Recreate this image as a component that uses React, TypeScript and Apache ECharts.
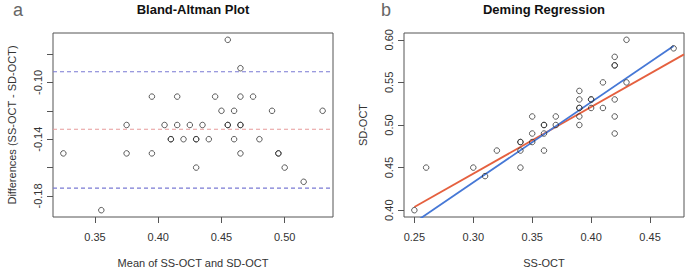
import React, { useEffect, useRef } from "react";
import * as echarts from "echarts";

// Paired measurements (SS-OCT vs SD-OCT)
const ssOct = [
  0.25, 0.26, 0.31, 0.3, 0.34, 0.32, 0.34, 0.34, 0.34, 0.36, 0.35, 0.35, 0.36,
  0.36, 0.36, 0.35, 0.37, 0.37, 0.39, 0.39, 0.42, 0.39, 0.39, 0.4, 0.39, 0.42,
  0.41, 0.4, 0.4, 0.39, 0.42, 0.41, 0.43, 0.42, 0.42, 0.42, 0.43, 0.47,
];
const sdOct = [
  0.4, 0.45, 0.44, 0.45, 0.45, 0.47, 0.47, 0.48, 0.48, 0.47, 0.48, 0.49, 0.49,
  0.5, 0.5, 0.51, 0.5, 0.51, 0.5, 0.51, 0.49, 0.52, 0.52, 0.52, 0.53, 0.51,
  0.52, 0.53, 0.53, 0.54, 0.53, 0.55, 0.55, 0.57, 0.57, 0.58, 0.6, 0.59,
];

// Bland-Altman reference lines
const meanDiff = -0.133;
const upperLoA = -0.0925;
const lowerLoA = -0.1745;

// Regression lines (right panel)
const demingSlope = 0.942;
const demingIntercept = 0.15;
const olsSlope = 0.783;
const olsIntercept = 0.208;

// Tick values
const baXTicks = [0.35, 0.4, 0.45, 0.5];
const baYTicks = [-0.18, -0.16, -0.14, -0.12, -0.1, -0.08];
const baYLabels = [-0.18, -0.14, -0.1];
const dmXTicks = [0.25, 0.3, 0.35, 0.4, 0.45];
const dmYTicks = [0.4, 0.45, 0.5, 0.55, 0.6];

const FONT = '"Liberation Sans", Arial, Helvetica, sans-serif';
const AXIS_COLOR = "#555";
const TEXT_COLOR = "#333";

function rExtent(arr: number[]): [number, number] {
  const mn = Math.min(...arr);
  const mx = Math.max(...arr);
  const r = mx - mn;
  return [mn - 0.04 * r, mx + 0.04 * r];
}

export default function App() {
  const ref = useRef<HTMLDivElement>(null);

  useEffect(() => {
    if (!ref.current) return;
    const chart = echarts.init(ref.current, undefined, { renderer: "svg" });

    const means = ssOct.map((s, i) => (s + sdOct[i]) / 2);
    const diffs = ssOct.map((s, i) => s - sdOct[i]);
    const baX = rExtent(means);
    const baY = rExtent(diffs);
    const dmX = rExtent(ssOct);
    const dmY = rExtent(sdOct);

    const fmt = (v: number) => Number(v).toFixed(2);

    const xAxisBase = (
      idx: number,
      ext: [number, number],
      ticks: number[],
      name: string
    ) => ({
      type: "value",
      gridIndex: idx,
      min: ext[0],
      max: ext[1],
      name,
      nameLocation: "middle",
      nameGap: 40,
      nameTextStyle: { color: TEXT_COLOR, fontSize: 11, fontFamily: FONT },
      axisLine: { show: false },
      splitLine: { show: false },
      axisTick: {
        show: true,
        inside: false,
        length: 6,
        customValues: ticks,
        lineStyle: { color: AXIS_COLOR, width: 1 },
      },
      axisLabel: {
        customValues: ticks,
        formatter: fmt,
        margin: 14,
        color: TEXT_COLOR,
        fontSize: 11,
        fontFamily: FONT,
      },
    });

    const yAxisBase = (
      idx: number,
      ext: [number, number],
      ticks: number[],
      labels: number[],
      name: string
    ) => ({
      type: "value",
      gridIndex: idx,
      min: ext[0],
      max: ext[1],
      name,
      nameLocation: "middle",
      nameGap: 36,
      nameTextStyle: { color: TEXT_COLOR, fontSize: 11, fontFamily: FONT },
      axisLine: { show: false },
      splitLine: { show: false },
      axisTick: {
        show: true,
        inside: false,
        length: 6,
        customValues: ticks,
        lineStyle: { color: AXIS_COLOR, width: 1 },
      },
      axisLabel: {
        customValues: labels,
        formatter: fmt,
        rotate: 90,
        margin: 10,
        color: TEXT_COLOR,
        fontSize: 11,
        fontFamily: FONT,
      },
    });

    const gridBase = {
      top: 33,
      height: 184,
      width: 280,
      show: true,
      borderColor: AXIS_COLOR,
      borderWidth: 1,
      backgroundColor: "transparent",
      containLabel: false,
      outerBoundsMode: "none",
    };

    const openCircle = {
      symbol: "circle",
      symbolSize: 5.5,
      itemStyle: { color: "rgba(0,0,0,0)", borderColor: "#333", borderWidth: 1 },
    };

    const dashed = (color: string) => ({
      lineStyle: { color, width: 1.2, type: [4, 3] },
    });

    const textStyle = (
      text: string,
      x: number,
      y: number,
      size: number,
      weight: string,
      fill: string
    ) => ({
      type: "text",
      x,
      y,
      silent: true,
      style: {
        text,
        fill,
        fontSize: size,
        fontWeight: weight,
        fontFamily: FONT,
        align: "center",
        verticalAlign: "middle",
        textAlign: "center",
        textVerticalAlign: "middle",
      },
    });

    const minSS = Math.min(...ssOct);
    const maxSS = Math.max(...ssOct);

    chart.setOption({
      animation: false,
      backgroundColor: "#fff",
      textStyle: { fontFamily: FONT },
      grid: [
        { ...gridBase, left: 53 },
        { ...gridBase, left: 404 },
      ],
      xAxis: [
        xAxisBase(0, baX, baXTicks, "Mean of SS-OCT and SD-OCT"),
        xAxisBase(1, dmX, dmXTicks, "SS-OCT"),
      ],
      yAxis: [
        yAxisBase(0, baY, baYTicks, baYLabels, "Differences (SS-OCT - SD-OCT)"),
        yAxisBase(1, dmY, dmYTicks, dmYTicks, "SD-OCT"),
      ],
      graphic: [
        textStyle("a", 18, 10, 18, "normal", "#666"),
        textStyle("b", 386, 10, 18, "normal", "#666"),
        textStyle("Bland-Altman Plot", 193, 9, 13, "bold", "#111"),
        textStyle("Deming Regression", 544, 9, 13, "bold", "#111"),
      ],
      series: [
        {
          type: "scatter",
          xAxisIndex: 0,
          yAxisIndex: 0,
          ...openCircle,
          data: means.map((m, i) => [m, diffs[i]]),
          z: 5,
        },
        {
          type: "line",
          xAxisIndex: 0,
          yAxisIndex: 0,
          data: [
            [baX[0], upperLoA],
            [baX[1], upperLoA],
          ],
          showSymbol: false,
          symbol: "none",
          ...dashed("#7a7ad4"),
          z: 3,
        },
        {
          type: "line",
          xAxisIndex: 0,
          yAxisIndex: 0,
          data: [
            [baX[0], lowerLoA],
            [baX[1], lowerLoA],
          ],
          showSymbol: false,
          symbol: "none",
          ...dashed("#7a7ad4"),
          z: 3,
        },
        {
          type: "line",
          xAxisIndex: 0,
          yAxisIndex: 0,
          data: [
            [baX[0], meanDiff],
            [baX[1], meanDiff],
          ],
          showSymbol: false,
          symbol: "none",
          ...dashed("#e89a9a"),
          z: 3,
        },
        {
          type: "scatter",
          xAxisIndex: 1,
          yAxisIndex: 1,
          ...openCircle,
          data: ssOct.map((s, i) => [s, sdOct[i]]),
          z: 5,
        },
        {
          type: "line",
          xAxisIndex: 1,
          yAxisIndex: 1,
          clip: true,
          data: [
            [minSS, olsIntercept + olsSlope * minSS],
            [dmX[1], olsIntercept + olsSlope * dmX[1]],
          ],
          showSymbol: false,
          symbol: "none",
          lineStyle: { color: "#e5603f", width: 1.8 },
          z: 3,
        },
        {
          type: "line",
          xAxisIndex: 1,
          yAxisIndex: 1,
          clip: true,
          data: [
            [minSS, demingIntercept + demingSlope * minSS],
            [maxSS, demingIntercept + demingSlope * maxSS],
          ],
          showSymbol: false,
          symbol: "none",
          lineStyle: { color: "#4678d6", width: 1.8 },
          z: 4,
        },
      ],
    });

    return () => chart.dispose();
  }, []);

  return (
    <div
      ref={ref}
      style={{
        position: "absolute",
        left: 0,
        top: 0,
        width: 685,
        height: 270,
        background: "#fff",
      }}
    />
  );
}
